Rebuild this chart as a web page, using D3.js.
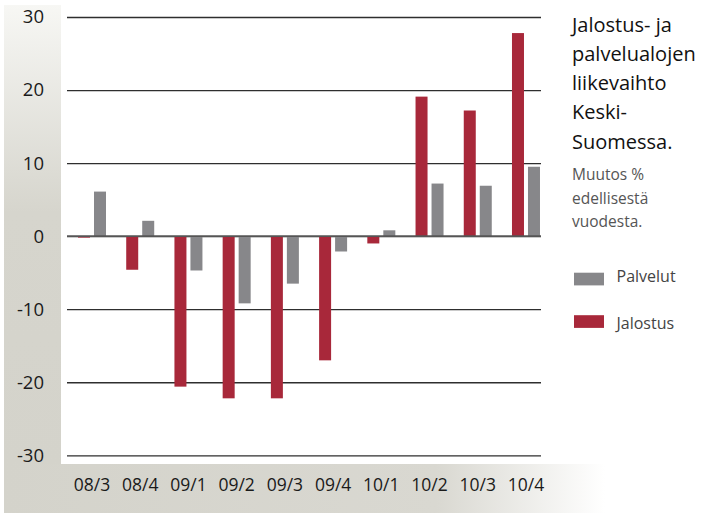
<!DOCTYPE html>
<html><head><meta charset="utf-8">
<script src="https://cdn.jsdelivr.net/npm/d3@7"></script>
<style>body{margin:0;background:#fff}svg{display:block;font-family:"Open Sans",sans-serif}</style>
</head><body>
<svg id="c" width="702" height="513"></svg>
<script>
const categories = ["08/3","08/4","09/1","09/2","09/3","09/4","10/1","10/2","10/3","10/4"];
const jalostus = [-0.2,-4.6,-20.6,-22.2,-22.2,-17.0,-1.0,19.1,17.2,27.8];
const palvelut = [6.1,2.1,-4.7,-9.2,-6.5,-2.1,0.8,7.2,6.9,9.5];
const yTicks = [30,20,10,0,-10,-20,-30];
const seriesNames = ["Jalostus","Palvelut"];
const legendOrder = ["Palvelut","Jalostus"];
const titleLines = ["Jalostus- ja","palvelualojen","liikevaihto","Keski-","Suomessa."];
const subtitleLines = ["Muutos %","edellisestä","vuodesta."];

const colors = {Jalostus:"#a8283a", Palvelut:"#87878a"};
const svg = d3.select("#c");
const defs = svg.append("defs");
const gl = defs.append("linearGradient").attr("id","gLeft").attr("x1",0).attr("y1",0).attr("x2",0).attr("y2",1);
gl.append("stop").attr("offset","0").attr("stop-color","#f7f7f4");
gl.append("stop").attr("offset","0.45").attr("stop-color","#d6d5cd");
gl.append("stop").attr("offset","1").attr("stop-color","#d4d3cb");
const gb = defs.append("linearGradient").attr("id","gBot").attr("x1",0).attr("y1",0).attr("x2",1).attr("y2",0);
gb.append("stop").attr("offset","0").attr("stop-color","#d4d3cb");
gb.append("stop").attr("offset","0.72").attr("stop-color","#d9d8d1");
gb.append("stop").attr("offset","1").attr("stop-color","#ffffff");

svg.append("rect").attr("x",4).attr("y",5).attr("width",57).attr("height",460).attr("fill","url(#gLeft)");
svg.append("rect").attr("x",4).attr("y",464).attr("width",601).attr("height",49).attr("fill","url(#gBot)");

const y = d3.scaleLinear().domain([-30,30]).range([455.3,17]);
const x0 = d3.scaleBand().domain(categories).range([68,550.2]);
const x1 = d3.scaleBand().domain(seriesNames).range([10,38]).paddingInner(0.25);

const yAxis = d3.axisLeft(y).tickValues(yTicks).tickSize(-474).tickPadding(23).tickFormat(d => String(d));
const ga = svg.append("g").attr("transform","translate(67,0)").call(yAxis);
ga.select(".domain").remove();
ga.selectAll(".tick line").attr("stroke","#2e2e2e").attr("stroke-width",1.3);
ga.selectAll(".tick text").attr("font-size","18.5px").attr("fill","#1a1a1a").attr("font-family","'Open Sans',sans-serif");

const groups = svg.append("g").selectAll("g").data(categories).join("g")
  .attr("transform", d => `translate(${x0(d)},0)`);
groups.selectAll("rect").data((d,i) => [{s:"Jalostus",v:jalostus[i]},{s:"Palvelut",v:palvelut[i]}]).join("rect")
  .attr("x", d => x1(d.s)).attr("width", x1.bandwidth())
  .attr("y", d => y(Math.max(0,d.v))).attr("height", d => Math.max(1.2, Math.abs(y(d.v)-y(0))))
  .attr("fill", d => colors[d.s]);

svg.append("line").attr("x1",67).attr("x2",541).attr("y1",y(0)).attr("y2",y(0)).attr("stroke","#555").attr("stroke-width",1.6);

const xAxis = d3.axisBottom(x0).tickSize(0).tickPadding(0);
const gx = svg.append("g").attr("transform","translate(0,475)").call(xAxis);
gx.select(".domain").remove();
gx.selectAll(".tick text").attr("font-size","17.5px").attr("fill","#1a1a1a").attr("font-family","'Open Sans',sans-serif").attr("dy","0.9em");
gx.selectAll(".tick").attr("transform", d => `translate(${x0(d)+24},0)`);

const t = svg.append("text").attr("x",572).attr("font-size","20px").attr("fill","#111");
titleLines.forEach((l,i)=>t.append("tspan").attr("x",572).attr("y",31.7+i*29.2).text(l));
const st = svg.append("text").attr("x",572).attr("font-size","15.5px").attr("fill","#555");
subtitleLines.forEach((l,i)=>st.append("tspan").attr("x",572).attr("y",180+i*23.6).text(l));

const lg = svg.append("g").selectAll("g").data(legendOrder).join("g");
lg.append("rect").attr("x",574).attr("y",(d,i)=>272.7+i*42.5).attr("width",30).attr("height",12.7).attr("fill",d=>colors[d]);
lg.append("text").attr("x",616.5).attr("y",(d,i)=>281.7+i*47.6).attr("font-size","16px").attr("fill","#444").text(d=>d);
</script>
</body></html>
